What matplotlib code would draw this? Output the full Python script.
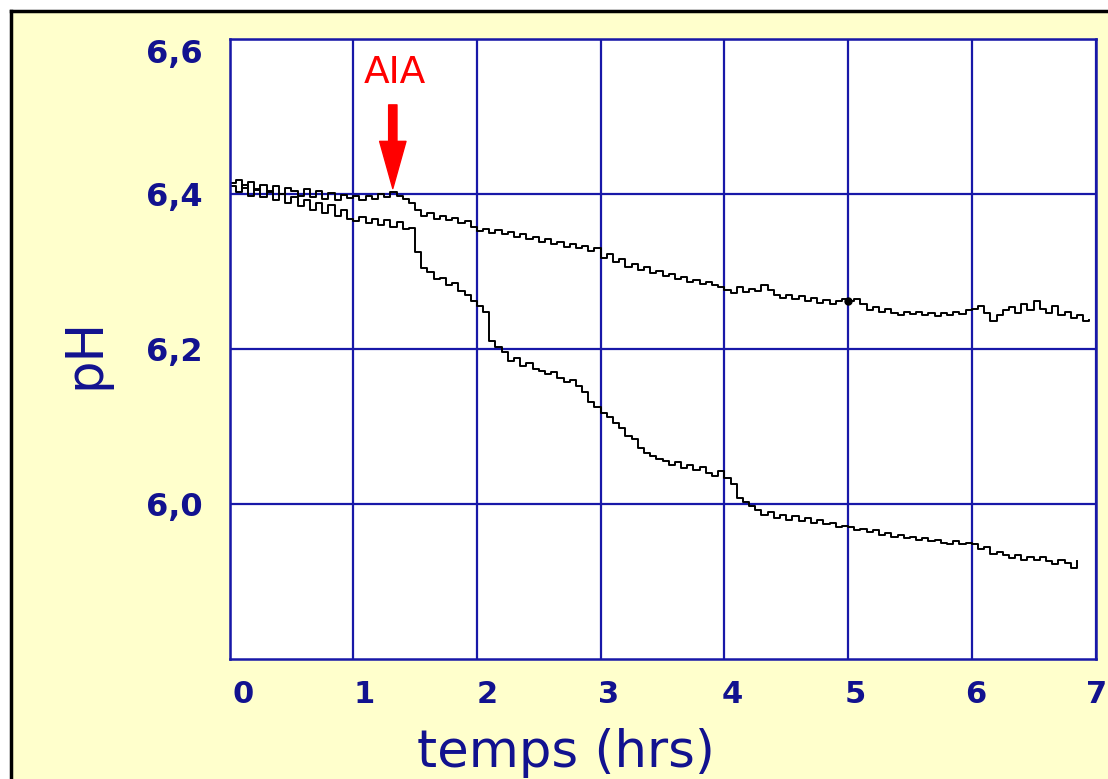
import matplotlib
matplotlib.use('Agg')
import matplotlib.pyplot as plt
import matplotlib.transforms as mtransforms
from matplotlib.patches import Rectangle
from matplotlib.lines import Line2D
import numpy as np

# pH trace without treatment (upper), one reading every 0.05 h
ph_ctrl = [6.414, 6.418, 6.408, 6.416, 6.405, 6.412, 6.403, 6.410, 6.400, 6.408,
           6.404, 6.398, 6.407, 6.396, 6.404, 6.394, 6.401, 6.392, 6.399, 6.395,
           6.397, 6.392, 6.398, 6.394, 6.400, 6.396, 6.402, 6.397, 6.393, 6.389,
           6.380, 6.372, 6.375, 6.368, 6.372, 6.366, 6.369, 6.362, 6.365, 6.358,
           6.352, 6.355, 6.350, 6.353, 6.348, 6.351, 6.344, 6.348, 6.342, 6.345,
           6.338, 6.342, 6.335, 6.338, 6.332, 6.336, 6.330, 6.333, 6.326, 6.330,
           6.318, 6.322, 6.312, 6.316, 6.306, 6.310, 6.302, 6.306, 6.298, 6.301,
           6.294, 6.297, 6.290, 6.293, 6.286, 6.289, 6.284, 6.286, 6.282, 6.280,
           6.276, 6.272, 6.280, 6.274, 6.278, 6.275, 6.282, 6.276, 6.270, 6.266,
           6.270, 6.264, 6.268, 6.262, 6.266, 6.260, 6.263, 6.258, 6.262, 6.265,
           6.262, 6.264, 6.258, 6.250, 6.254, 6.248, 6.252, 6.246, 6.244, 6.248,
           6.245, 6.248, 6.244, 6.247, 6.243, 6.246, 6.244, 6.248, 6.245, 6.250,
           6.252, 6.256, 6.246, 6.236, 6.244, 6.250, 6.254, 6.246, 6.258, 6.250,
           6.262, 6.252, 6.246, 6.255, 6.244, 6.248, 6.240, 6.244, 6.236, 6.238]

# pH trace with AIA added (lower)
ph_aia = [6.410, 6.402, 6.412, 6.398, 6.406, 6.396, 6.404, 6.392, 6.400, 6.388,
          6.396, 6.384, 6.392, 6.380, 6.389, 6.376, 6.386, 6.372, 6.380, 6.368,
          6.365, 6.370, 6.362, 6.368, 6.360, 6.366, 6.358, 6.364, 6.355, 6.356,
          6.325, 6.305, 6.300, 6.290, 6.292, 6.282, 6.285, 6.275, 6.270, 6.262,
          6.256, 6.248, 6.210, 6.202, 6.196, 6.185, 6.188, 6.178, 6.182, 6.174,
          6.172, 6.168, 6.170, 6.162, 6.158, 6.160, 6.152, 6.144, 6.132, 6.125,
          6.118, 6.112, 6.104, 6.098, 6.088, 6.084, 6.072, 6.066, 6.062, 6.058,
          6.056, 6.050, 6.054, 6.046, 6.050, 6.044, 6.048, 6.040, 6.036, 6.042,
          6.034, 6.026, 6.008, 6.002, 5.998, 5.992, 5.986, 5.990, 5.982, 5.986,
          5.980, 5.984, 5.978, 5.982, 5.976, 5.980, 5.974, 5.976, 5.970, 5.972,
          5.970, 5.966, 5.968, 5.964, 5.966, 5.960, 5.962, 5.958, 5.960, 5.956,
          5.958, 5.954, 5.956, 5.952, 5.954, 5.950, 5.948, 5.952, 5.948, 5.950,
          5.948, 5.942, 5.944, 5.936, 5.938, 5.934, 5.930, 5.934, 5.928, 5.932,
          5.928, 5.932, 5.926, 5.922, 5.928, 5.924, 5.918, 5.926]

t_ctrl = np.linspace(0, 6.95, len(ph_ctrl))
t_aia = np.linspace(0, 6.85, len(ph_aia))

x_ticks = [0, 1, 2, 3, 4, 5, 6, 7]
y_ticks = [6.0, 6.2, 6.4, 6.6]
y_labels = ['6,0', '6,2', '6,4', '6,6']

aia_time = 1.32

navy = '#12128f'
gridblue = '#1818a8'

fig = plt.figure(figsize=(11.08, 7.79), dpi=100)
fig.patch.set_facecolor('white')
fig.patches.append(Rectangle((11/1108, 0), 1, 1 - 11/779, transform=fig.transFigure,
                             facecolor='#ffffcc', edgecolor='none', zorder=-5))
fig.lines.append(Line2D([11/1108, 11/1108], [0, 1 - 11/779], transform=fig.transFigure,
                        color='black', lw=2.5))
fig.lines.append(Line2D([11/1108, 1], [1 - 11/779, 1 - 11/779], transform=fig.transFigure,
                        color='black', lw=2.5))

ax = fig.add_axes([229.5/1108, 120/779, 866/1108, 620/779])
ax.set_zorder(5)
ax.set_facecolor('white')

ax.plot(t_ctrl, ph_ctrl, color='black', lw=1.4, drawstyle='steps-post')
ax.plot(t_aia, ph_aia, color='black', lw=1.4, drawstyle='steps-post')
ax.plot(t_ctrl[100], ph_ctrl[100], 'o', color='black', ms=5)

ax.set_xlim(0, 7)
ax.set_ylim(5.8, 6.6)
ax.set_xticks(x_ticks)
ax.set_yticks(y_ticks, y_labels)
ax.grid(True, color=gridblue, lw=1.6)
ax.set_axisbelow(True)
for s in ax.spines.values():
    s.set_color(gridblue)
    s.set_linewidth(1.8)

ax.tick_params(axis='both', length=0, colors=navy)
ax.tick_params(axis='x', pad=15, labelsize=22)
ax.tick_params(axis='y', pad=19, labelsize=23)
# tick labels sit a little right of their grid lines
shifts = [14, 11, 10, 8, 8, 7, 4, 1]
for lab, dx in zip(ax.get_xticklabels(), shifts):
    lab.set_fontweight('bold')
    lab.set_transform(lab.get_transform() +
                      mtransforms.ScaledTranslation(dx/100, 0, fig.dpi_scale_trans))
for lab in ax.get_yticklabels():
    lab.set_fontweight('bold')
    if lab.get_text() == '6,6':
        lab.set_va('top')

ax.text(1.34, 6.556, 'AIA', color='red', fontsize=27, ha='center', va='center')
ax.annotate('', xy=(aia_time, 6.407), xytext=(aia_time, 6.515),
            arrowprops=dict(facecolor='red', edgecolor='red', width=6,
                            headwidth=19, headlength=34, shrink=0))

fig.text(566/1108, 12/779, 'temps (hrs)', color=navy, fontsize=37,
         ha='center', va='baseline')
fig.text(85/1108, 1 - 353/779, 'pH', color=navy, fontsize=37,
         rotation=90, ha='center', va='center')

fig.savefig('out.png', dpi=100, facecolor=fig.get_facecolor())
